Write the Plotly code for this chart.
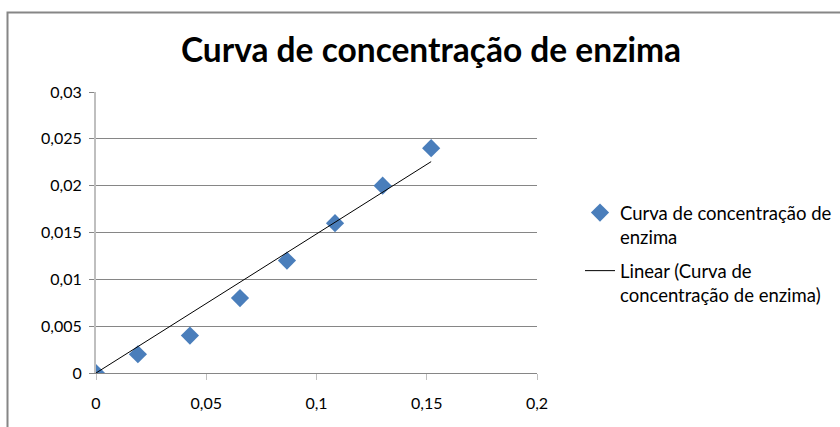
import numpy as np
import plotly.graph_objects as go

# Data
x_vals = [0.0, 0.019, 0.0426, 0.0653, 0.0866, 0.1084, 0.130, 0.152]
y_vals = [0.0, 0.002, 0.004, 0.008, 0.012, 0.016, 0.020, 0.024]

x_tickvals = [0, 0.05, 0.1, 0.15, 0.2]
x_ticktext = ["0", "0,05", "0,1", "0,15", "0,2"]
y_tickvals = [0, 0.005, 0.01, 0.015, 0.02, 0.025, 0.03]
y_ticktext = ["0", "0,005", "0,01", "0,015", "0,02", "0,025", "0,03"]

title_text = "Curva de concentração de enzima"
series_name = "Curva de concentração de<br>enzima"
trend_name = "Linear (Curva de<br>concentração de enzima)"

# Linear trendline through origin (least squares)
xa = np.array(x_vals)
ya = np.array(y_vals)
slope = float((xa * ya).sum() / (xa * xa).sum())
trend_x = [min(x_vals), max(x_vals)]
trend_y = [slope * v for v in trend_x]

FONT = "Lato"

fig = go.Figure()
fig.add_trace(go.Scatter(
    x=x_vals, y=y_vals, mode="markers", name=series_name, legendgroup="g1",
    marker=dict(symbol="diamond", size=14, color="#4A7EBB",
                line=dict(width=0)),
))
fig.add_trace(go.Scatter(
    x=trend_x, y=trend_y, mode="lines", name=trend_name, legendgroup="g2",
    line=dict(color="#000000", width=1),
))

L, R, T, B = 96, 303, 92, 54
W, H = 840, 427
pw = W - L - R
ph = H - T - B

def px_x(p):
    return (p - L) / pw

def px_y(p):
    return (H - B - p) / ph

fig.update_layout(
    width=W, height=H,
    margin=dict(l=L, r=R, t=T, b=B, autoexpand=False),
    paper_bgcolor="white", plot_bgcolor="white",
    font=dict(family=FONT, color="#000000"),
    title=dict(text="<b>" + title_text + "</b>", font=dict(size=33.5, family=FONT),
               x=px_x(431), xref="paper", xanchor="center",
               y=1 - 50 / H, yref="container", yanchor="middle"),
    showlegend=True,
    legend=dict(x=px_x(580), y=px_y(194), xanchor="left", yanchor="top",
                font=dict(size=18.5, family=FONT), valign="top",
                tracegroupgap=7, bgcolor="rgba(0,0,0,0)"),
    xaxis=dict(range=[0, 0.2], tickvals=x_tickvals, ticktext=x_ticktext,
               showgrid=False, zeroline=False,
               showline=True, linecolor="#868686", linewidth=1,
               ticks="outside", ticklen=6, tickcolor="#BFBFBF", tickwidth=1,
               tickfont=dict(size=16, family=FONT), ticklabelstandoff=10),
    yaxis=dict(range=[0, 0.03], tickvals=y_tickvals, ticktext=y_ticktext,
               showgrid=True, gridcolor="#868686", gridwidth=1,
               zeroline=False,
               showline=True, linecolor="#BFBFBF", linewidth=2,
               ticks="outside", ticklen=5, tickcolor="#868686", tickwidth=1,
               tickfont=dict(size=16, family=FONT), ticklabelstandoff=4),
    shapes=[dict(type="rect", xref="paper", yref="paper",
                 x0=px_x(7.5), x1=px_x(850), y0=px_y(440), y1=px_y(12.5),
                 line=dict(color="#868686", width=2), layer="below")],
)

fig.write_html("out.html",
               config={"displayModeBar": False},
               post_script="document.body.style.margin='0';document.body.style.overflow='hidden';")
